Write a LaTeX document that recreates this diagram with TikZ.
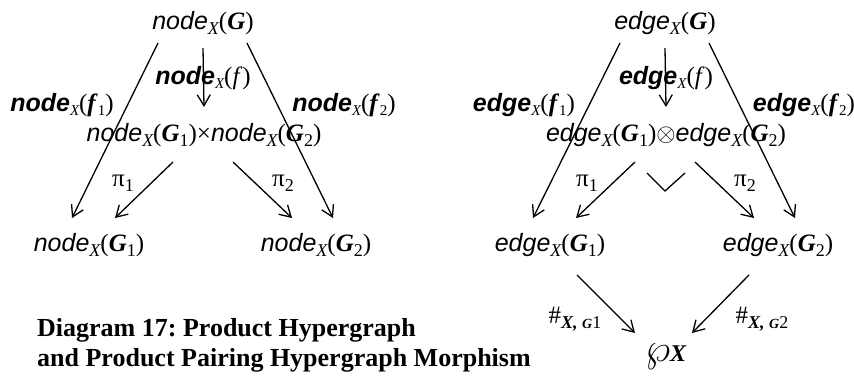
\documentclass[tikz,border=0pt]{standalone}
\usepackage{fontspec}
\setmainfont{Liberation Serif}
\setsansfont{Liberation Sans}
\usetikzlibrary{arrows.meta,calc}
\frenchspacing
\tikzset{
  arr/.style={-{Straight Barb[length=11pt,width=13pt,line width=1.3pt]},line width=1.3pt},
  lab/.style={anchor=base,inner sep=0pt,font=\fontsize{25}{30}\selectfont},
}
\newcommand{\sbx}[1]{\raisebox{-5pt}{\fontsize{18}{18}\selectfont #1}}
\newcommand{\sbs}[1]{\raisebox{-4pt}{\fontsize{15}{15}\selectfont #1}}
\newcommand{\hyp}[2]{{\sffamily\itshape #1}\sbx{\itshape X}(#2)}
\newcommand{\hypb}[2]{{\sffamily\bfseries\itshape #1}\sbs{\itshape X}(#2)}
\newcommand{\bG}{\textbf{\textit{G}}}
\newcommand{\bff}{\textbf{\textit{f}}}

\begin{document}
\begin{tikzpicture}[x=1pt,y=-1pt]
\useasboundingbox (0,0) rectangle (854,375);
% objects
\node[lab] (nG) at (203,29) {\hyp{node}{\bG}};
\node[lab] (nP) at (204,141) {\hyp{node}{\bG\sbx{1}}×\hyp{node}{\bG\sbx{2}}};
\node[lab] (nG1) at (89,251) {\hyp{node}{\bG\sbx{1}}};
\node[lab] (nG2) at (316,251) {\hyp{node}{\bG\sbx{2}}};
\node[lab] (eG) at (665,29) {\hyp{edge}{\bG}};
\node[lab] (eP) at (666,141) {\hyp{edge}{\bG\sbx{1}}$\otimes$\hyp{edge}{\bG\sbx{2}}};
\node[lab] (eG1) at (550,251) {\hyp{edge}{\bG\sbx{1}}};
\node[lab] (eG2) at (778,251) {\hyp{edge}{\bG\sbx{2}}};
\node[lab] (wp) at (666,361) {\scalebox{1.6}{$\wp$}\fontsize{24}{24}\selectfont\textbf{\textit{X}}};
% arrows
\foreach \s in {n,e} {
  \draw[arr] ($(\s G.base)+(-45,14)$) -- ($(\s G1.base)+(-17,-33)$);
  \draw[arr] ($(\s G.base)+(44,14)$) -- ($(\s G2.base)+(17,-33)$);
  \draw[arr] ($(\s G.base)+(0,19)$) -- ($(\s P.base)+(0,-34)$);
  \draw[arr] ($(\s P.base)+(-31,21)$) -- ($(\s G1.base)+(26,-33)$);
  \draw[arr] ($(\s P.base)+(29,21)$) -- ($(\s G2.base)+(-24,-33)$);
}
\draw[arr] ($(eG1.base)+(27,24)$) -- ($(wp.base)+(-31,-28)$);
\draw[arr] ($(eG2.base)+(-29,24)$) -- ($(wp.base)+(26,-28)$);
\draw[line width=1.3pt] ($(eP.base)+(-19,32)$) -- ++(18,18) -- ++(20,-18);
% labels
\node[lab] (nf) at (203,84) {\hypb{node}{\textit{f}}};
\node[lab] (nf1) at (62,111) {\hypb{node}{\bff\sbs{1}}};
\node[lab] (nf2) at (344,111) {\hypb{node}{\bff\sbs{2}}};
\node[lab] (np1) at (123,186) {π\sbx{1}};
\node[lab] (np2) at (283,186) {π\sbx{2}};
\node[lab] (ef) at (666,84) {\hypb{edge}{\textit{f}}};
\node[lab] (ef1) at (524,111) {\hypb{edge}{\bff\sbs{1}}};
\node[lab] (ef2) at (804,111) {\hypb{edge}{\bff\sbs{2}}};
\node[lab] (ep1) at (587,186) {π\sbx{1}};
\node[lab] (ep2) at (745,186) {π\sbx{2}};
\node[lab] (h1) at (575,323) {\#\sbx{\textbf{\textit{X,}} {\fontsize{14}{14}\selectfont\textbf{\textit{G}}}1}};
\node[lab] (h2) at (762,323) {\#\sbx{\textbf{\textit{X,}} {\fontsize{14}{14}\selectfont\textbf{\textit{G}}}2}};
% caption
\node[anchor=north west,inner sep=0pt,align=left,font=\fontsize{26}{30}\selectfont\bfseries] (cap) at (37,318) {Diagram 17: Product Hypergraph\\and Product Pairing Hypergraph Morphism};
\end{tikzpicture}
\end{document}
